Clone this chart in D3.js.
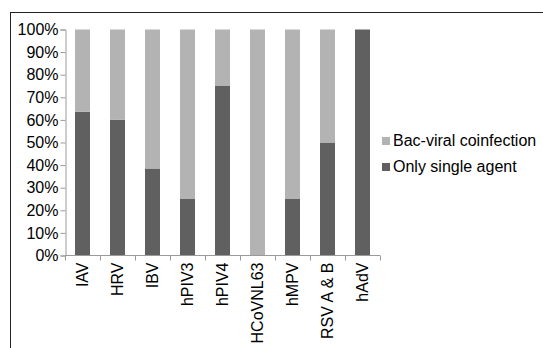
<!DOCTYPE html>
<html>
<head>
<meta charset="utf-8">
<script src="https://cdn.jsdelivr.net/npm/d3@7"></script>
<style>
  html, body { margin: 0; padding: 0; background: #fff; }
  svg { display: block; font-family: "Liberation Sans", Arial, sans-serif; }
</style>
</head>
<body>
<svg id="chart" width="543" height="348"></svg>
<script>
// Virus categories along the x axis
const categories = ["IAV", "HRV", "IBV", "hPIV3", "hPIV4", "HCoVNL63", "hMPV", "RSV A & B", "hAdV"];
// Share of cases with only a single agent (%)
const singleAgent = [63.6, 60, 38.5, 25, 75, 0, 25, 50, 100];
// Share of cases with bacterial-viral coinfection (%)
const bacViral = [36.4, 40, 61.5, 75, 25, 100, 75, 50, 0];
const seriesNames = ["Only single agent", "Bac-viral coinfection"];
const seriesColors = ["#606060", "#b3b3b3"];
const yTicks = [0, 10, 20, 30, 40, 50, 60, 70, 80, 90, 100];

const svg = d3.select("#chart");

// Outer frame
svg.append("rect")
  .attr("x", 10.5).attr("y", 12.5)
  .attr("width", 700).attr("height", 500)
  .attr("fill", "none").attr("stroke", "#222").attr("stroke-width", 1);

const plot = { left: 65, right: 380, top: 29.5, bottom: 255.5 };

const x = d3.scaleBand().domain(categories)
  .range([plot.left, plot.right]).paddingInner(0).paddingOuter(0);
const y = d3.scaleLinear().domain([0, 100]).range([plot.bottom, plot.top]);

const rows = categories.map((c, i) => ({ cat: c, single: singleAgent[i], bac: bacViral[i] }));
const stacked = d3.stack().keys(["single", "bac"])(rows);

const barW = 15;
svg.append("g").selectAll("g")
  .data(stacked)
  .join("g")
  .attr("fill", (d, i) => seriesColors[i])
  .selectAll("rect")
  .data(d => d)
  .join("rect")
  .attr("x", d => x(d.data.cat) + (x.bandwidth() - barW) / 2)
  .attr("width", barW)
  .attr("y", d => y(d[1]))
  .attr("height", d => y(d[0]) - y(d[1]));

// Y axis
const yAxis = svg.append("g")
  .attr("transform", `translate(${plot.left + 0.5},0)`)
  .call(d3.axisLeft(y).tickValues(yTicks).tickFormat(d => d + "%").tickSize(5).tickPadding(2));
yAxis.select(".domain").attr("stroke", "#9a9a9a");
yAxis.selectAll(".tick line").attr("stroke", "#9a9a9a");
yAxis.selectAll(".tick text")
  .attr("fill", "#000").attr("font-size", "16px")
  .attr("font-family", "Liberation Sans, Arial, sans-serif");

// X axis with ticks at band boundaries
const xAxisG = svg.append("g").attr("transform", `translate(0,${plot.bottom})`);
xAxisG.append("line")
  .attr("x1", plot.left).attr("x2", plot.right)
  .attr("stroke", "#9a9a9a");
const bounds = categories.map(c => x(c)).concat([x(categories[categories.length - 1]) + x.step()]);
xAxisG.selectAll("line.tk")
  .data(bounds)
  .join("line")
  .attr("class", "tk")
  .attr("x1", d => Math.round(d) + 0.5).attr("x2", d => Math.round(d) + 0.5)
  .attr("y1", 0).attr("y2", 5)
  .attr("stroke", "#9a9a9a");
xAxisG.selectAll("text")
  .data(categories)
  .join("text")
  .attr("transform", d => `translate(${x(d) + x.bandwidth() / 2 + 5.8},7) rotate(-90)`)
  .attr("text-anchor", "end")
  .attr("fill", "#000")
  .attr("font-size", "16px")
  .text(d => d);

// Legend
const legendItems = [
  { name: seriesNames[1], color: seriesColors[1] },
  { name: seriesNames[0], color: seriesColors[0] }
];
const legend = svg.append("g").attr("transform", "translate(382,137)");
const li = legend.selectAll("g")
  .data(legendItems)
  .join("g")
  .attr("transform", (d, i) => `translate(0,${i * 26})`);
li.append("rect").attr("width", 8).attr("height", 8).attr("fill", d => d.color);
li.append("text")
  .attr("x", 11).attr("y", 8.7)
  .attr("fill", "#000").attr("font-size", "16px")
  .text(d => d.name);
</script>
</body>
</html>
